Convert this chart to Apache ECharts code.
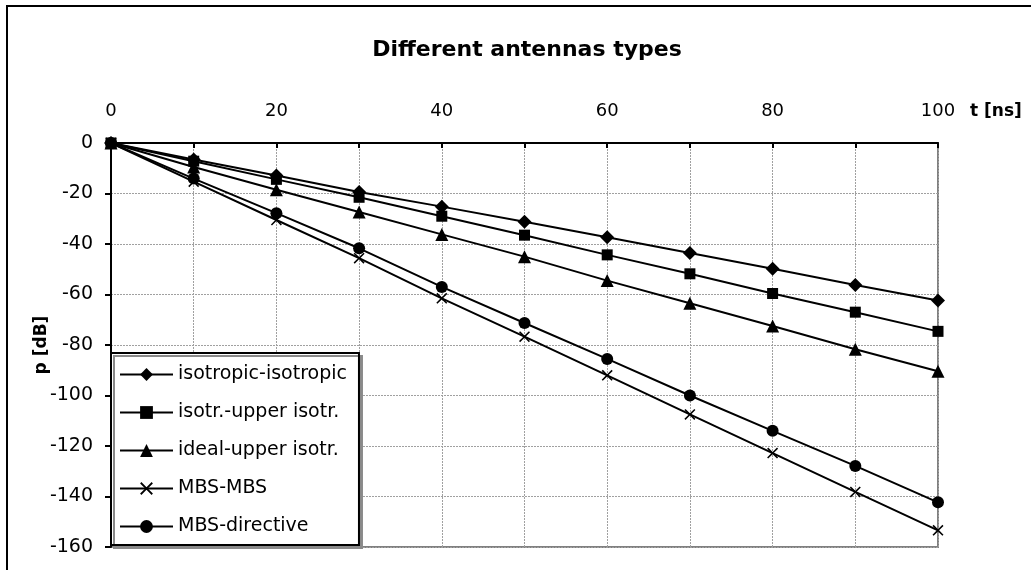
<!DOCTYPE html>
<html>
<head>
<meta charset="utf-8">
<style>
  html, body { margin: 0; padding: 0; background: #fff; }
  #chart { width: 1031px; height: 570px; }
</style>
<script src="https://cdn.jsdelivr.net/npm/echarts@6/dist/echarts.min.js"></script>
</head>
<body>
<div id="chart"></div>
<script>
// Time axis [ns]
const times = [0, 10, 20, 30, 40, 50, 60, 70, 80, 90, 100];

// Received power p [dB] for each antenna pairing
const isotropicIsotropic = [0, -6.5, -12.9, -19.4, -25.2, -31.2, -37.3, -43.6, -49.8, -56.2, -62.4];
const isotrUpperIsotr    = [0, -7.2, -14.4, -21.5, -29.0, -36.5, -44.3, -51.8, -59.6, -67.0, -74.6];
const idealUpperIsotr    = [0, -9.5, -18.5, -27.3, -36.2, -45.0, -54.5, -63.5, -72.5, -81.7, -90.4];
const mbsMbs             = [0, -15.3, -30.5, -45.6, -61.5, -76.7, -92.0, -107.5, -122.8, -138.2, -153.4];
const mbsDirective       = [0, -14.1, -27.8, -41.7, -57.0, -71.3, -85.5, -100.0, -114.0, -127.9, -142.3];

const seriesNames = ['isotropic-isotropic', 'isotr.-upper isotr.', 'ideal-upper isotr.', 'MBS-MBS', 'MBS-directive'];

const titleText = 'Different antennas types';
const xName = 't [ns]';
const yName = 'p [dB]';

const FONT = 'DejaVu Sans';

// thin "x" marker outline
const crossPath = 'path://M0,1 L1,0 L5,4 L9,0 L10,1 L6,5 L10,9 L9,10 L5,6 L1,10 L0,9 L4,5 Z';

function pairs(vals) {
  return times.map((t, i) => [t, vals[i]]);
}

function lineSeries(name, vals, symbol, size) {
  return {
    name: name,
    type: 'line',
    data: pairs(vals),
    symbol: symbol,
    symbolSize: size,
    showAllSymbol: true,
    lineStyle: { color: '#000', width: 2 },
    itemStyle: { color: '#000', borderWidth: 0 },
    emphasis: { disabled: true },
    animation: false
  };
}

const gridLine = { show: true, lineStyle: { color: '#a0a0a0', width: 1, type: [2, 1] } };

const chart = echarts.init(document.getElementById('chart'), null, { renderer: 'canvas' });

chart.setOption({
  backgroundColor: '#fff',
  animation: false,
  title: {
    text: titleText,
    left: 527,
    top: 39,
    textAlign: 'center',
    padding: 0,
    textStyle: { fontFamily: FONT, fontWeight: 'bold', fontSize: 22, color: '#000' }
  },
  graphic: [
    {
      type: 'rect',
      shape: { x: 7, y: 6, width: 1200, height: 1000 },
      style: { fill: null, stroke: '#000', lineWidth: 2 },
      silent: true,
      z: -10
    },
    {
      type: 'text',
      left: 970,
      top: 103,
      style: { text: xName, font: 'bold 17px "DejaVu Sans"', fill: '#000' },
      silent: true
    }
  ],
  legend: {
    orient: 'vertical',
    left: 111,
    top: 353,
    data: seriesNames,
    itemWidth: 53,
    itemHeight: 16,
    itemGap: 19,
    padding: [12, 12, 9, 8],
    backgroundColor: '#fff',
    borderColor: '#000',
    borderWidth: 2,
    borderRadius: 0,
    shadowColor: '#8a8a8a',
    shadowBlur: 0,
    shadowOffsetX: 3,
    shadowOffsetY: 3,
    selectedMode: false,
    textStyle: { fontFamily: FONT, fontSize: 19, color: '#000' }
  },
  grid: {
    left: 111,
    right: 93,
    top: 143,
    bottom: 23,
    show: true,
    borderColor: '#808080',
    borderWidth: 2,
    backgroundColor: '#fff'
  },
  xAxis: {
    type: 'value',
    position: 'top',
    min: 0,
    max: 100,
    interval: 10,
    axisLine: { show: true, lineStyle: { color: '#000', width: 2 } },
    axisTick: { show: true, inside: true, length: 5, lineStyle: { color: '#000', width: 2 } },
    axisLabel: {
      margin: 23,
      fontFamily: FONT,
      fontSize: 18,
      color: '#000',
      formatter: v => (v % 20 === 0 ? String(v) : '')
    },
    splitLine: gridLine
  },
  yAxis: {
    type: 'value',
    min: -160,
    max: 0,
    interval: 20,
    name: yName,
    nameLocation: 'middle',
    nameRotate: 90,
    nameGap: 61,
    nameMoveOverlap: false,
    nameTextStyle: { fontFamily: FONT, fontWeight: 'bold', fontSize: 17, color: '#000' },
    axisLine: { show: true, lineStyle: { color: '#000', width: 2 } },
    axisTick: { show: true, inside: false, length: 6, lineStyle: { color: '#000', width: 2 } },
    axisLabel: { margin: 18, fontFamily: FONT, fontSize: 19, color: '#000' },
    splitLine: gridLine
  },
  series: [
    lineSeries(seriesNames[0], isotropicIsotropic, 'diamond', 14),
    lineSeries(seriesNames[1], isotrUpperIsotr, 'rect', 11),
    lineSeries(seriesNames[2], idealUpperIsotr, 'triangle', 13),
    lineSeries(seriesNames[3], mbsMbs, crossPath, 11),
    lineSeries(seriesNames[4], mbsDirective, 'circle', 12)
  ]
});
</script>
</body>
</html>
